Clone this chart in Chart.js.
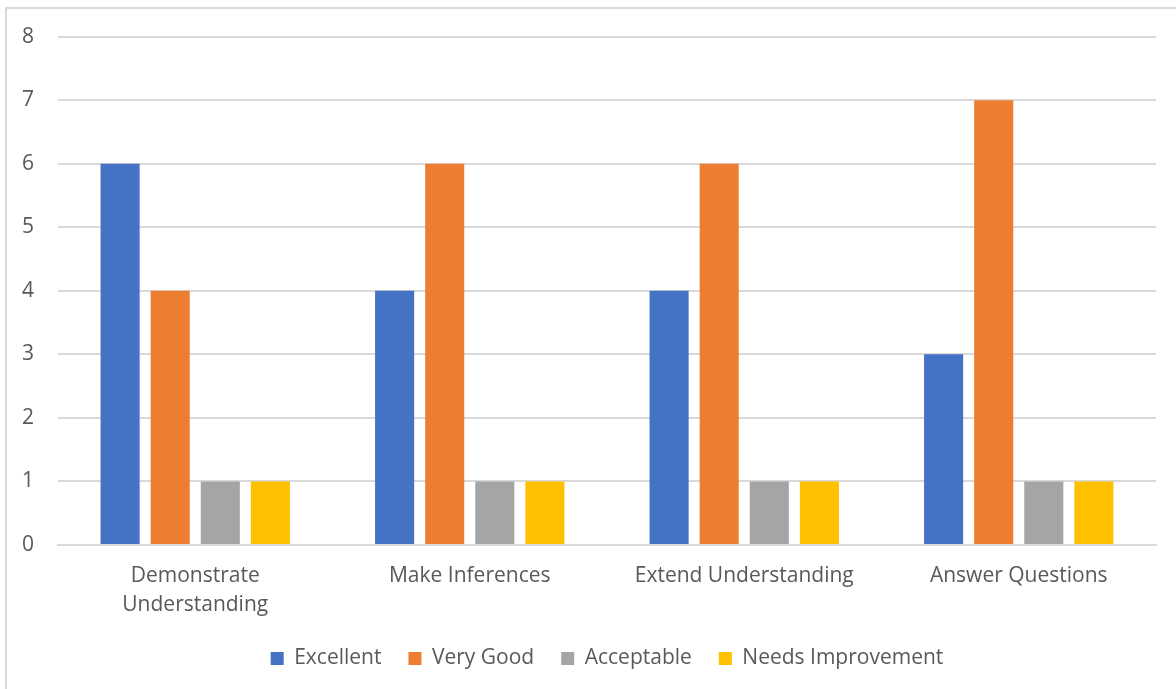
<!DOCTYPE html>
<html>
<head>
<meta charset="utf-8">
<script src="https://cdn.jsdelivr.net/npm/chart.js@4.4.0/dist/chart.umd.min.js"></script>
<style>
  html, body { margin: 0; padding: 0; background: #fff; overflow: hidden; }
  #wrap { position: relative; width: 1176px; height: 689px; }
  #frame {
    position: absolute; left: 5px; top: 7px; width: 1190px; height: 720px;
    border: 2px solid #d9d9d9; box-sizing: border-box; pointer-events: none;
  }
  canvas { position: absolute; left: 0; top: 0; }
</style>
</head>
<body>
<div id="wrap">
  <canvas id="chart" width="1176" height="689"></canvas>
  <div id="frame"></div>
</div>
<script>
  // Chart data
  const categories = [
    ['Demonstrate', 'Understanding'],
    'Make Inferences',
    'Extend Understanding',
    'Answer Questions'
  ];
  const excellent = [6, 4, 4, 3];
  const veryGood = [4, 6, 6, 7];
  const acceptable = [1, 1, 1, 1];
  const needsImprovement = [1, 1, 1, 1];
  const yTicks = [0, 1, 2, 3, 4, 5, 6, 7, 8];

  const textColor = '#595959';
  const gridColor = '#d9d9d9';
  const fontFamily = '"Open Sans", "Liberation Sans", sans-serif';

  const series = [
    { label: 'Excellent', data: excellent, color: '#4472C4' },
    { label: 'Very Good', data: veryGood, color: '#ED7D31' },
    { label: 'Acceptable', data: acceptable, color: '#A5A5A5' },
    { label: 'Needs Improvement', data: needsImprovement, color: '#FFC000' }
  ];

  new Chart(document.getElementById('chart'), {
    type: 'bar',
    data: {
      labels: categories,
      datasets: series.map(s => ({
        label: s.label,
        data: s.data,
        backgroundColor: s.color,
        borderWidth: 0,
        categoryPercentage: 0.73,
        barPercentage: 0.78
      }))
    },
    options: {
      responsive: false,
      animation: false,
      layout: {
        padding: { left: 0, right: 20, top: 35, bottom: 10 }
      },
      plugins: {
        legend: {
          position: 'bottom',
          fullSize: false, // centre under the plot area, not the canvas
          labels: {
            color: textColor,
            font: { family: fontFamily, size: 21 },
            boxWidth: 13,
            boxHeight: 13,
            padding: 27
          }
        },
        tooltip: { enabled: false }
      },
      scales: {
        x: {
          grid: { display: false, drawTicks: false },
          border: { color: gridColor, width: 2 },
          ticks: {
            color: textColor,
            font: { family: fontFamily, size: 21, lineHeight: 1.4 },
            padding: 16,
            maxRotation: 0,
            autoSkip: false
          },
          afterFit: scale => { scale.height = 76; }
        },
        y: {
          min: 0,
          max: 8,
          afterBuildTicks: scale => {
            scale.ticks = yTicks.map(v => ({ value: v }));
          },
          grid: { color: gridColor, lineWidth: 2, drawTicks: false },
          border: { display: false },
          ticks: {
            color: textColor,
            font: { family: fontFamily, size: 21 },
            padding: 24
          },
          afterFit: scale => { scale.width = 58; }
        }
      }
    }
  });
</script>
</body>
</html>
